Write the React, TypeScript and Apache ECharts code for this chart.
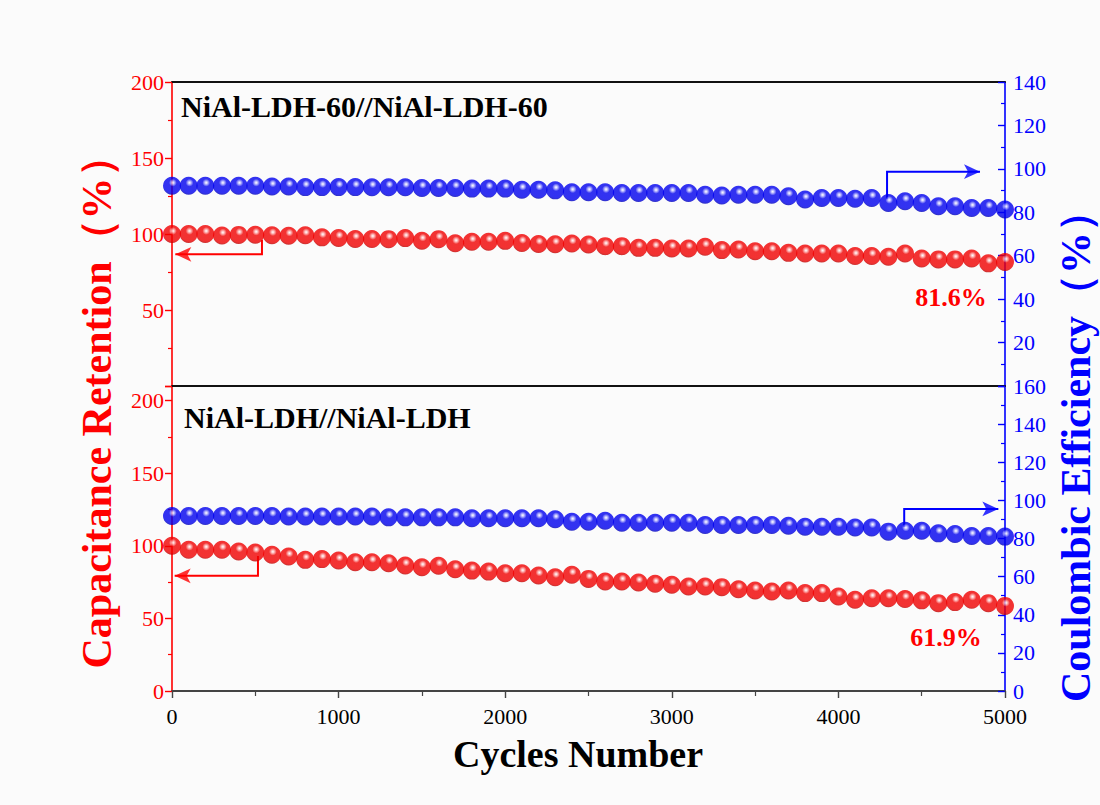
import React, { useEffect, useRef } from 'react';
import * as echarts from 'echarts';

const cycles = [
  0, 100, 200, 300, 400, 500, 600, 700, 800, 900,
  1000, 1100, 1200, 1300, 1400, 1500, 1600, 1700, 1800, 1900,
  2000, 2100, 2200, 2300, 2400, 2500, 2600, 2700, 2800, 2900,
  3000, 3100, 3200, 3300, 3400, 3500, 3600, 3700, 3800, 3900,
  4000, 4100, 4200, 4300, 4400, 4500, 4600, 4700, 4800, 4900, 5000,
];

// NiAl-LDH-60//NiAl-LDH-60
const retention60 = [
  100, 100, 100, 99, 99.4, 99.5, 99.2, 98.9, 99.2, 97.8,
  97.4, 96.7, 96.7, 96.6, 97.3, 95.6, 96.6, 93.9, 94.9, 94.9,
  95.5, 94.1, 93.4, 93.3, 93.7, 93.1, 92.0, 92.0, 90.9, 90.9,
  90.5, 90.5, 91.6, 89.4, 89.8, 88.7, 88.7, 87.6, 87.2, 87.2,
  87.2, 85.5, 85.5, 85.0, 87.2, 83.9, 83.3, 83.3, 83.9, 80.7, 81.6,
];
const efficiency60 = [
  92.2, 92.2, 92.2, 92.2, 92.2, 92.2, 91.9, 91.9, 91.6, 91.6,
  91.6, 91.6, 91.5, 91.5, 91.5, 91.2, 91.2, 91.2, 90.9, 90.9,
  90.9, 90.4, 90.4, 90.1, 89.2, 89.2, 89.2, 88.9, 88.9, 88.9,
  88.9, 88.9, 88.1, 87.7, 88.1, 88.1, 88.1, 87.4, 85.9, 86.6,
  86.6, 86.2, 86.6, 84.3, 85.1, 84.3, 82.8, 82.8, 82.0, 82.0, 81.3,
];

// NiAl-LDH//NiAl-LDH
const retentionLDH = [
  100, 97.2, 97.2, 97.2, 96.1, 95.4, 93.8, 92.6, 90.3, 90.8,
  89.8, 88.7, 88.7, 88.0, 86.4, 85.2, 86.2, 83.8, 82.9, 82.2,
  81.1, 81.1, 79.5, 78.3, 80.0, 77.2, 75.4, 75.4, 74.7, 73.8,
  73.1, 71.9, 71.9, 71.5, 70.1, 69.2, 68.5, 69.2, 67.4, 67.4,
  65.1, 62.8, 63.9, 63.9, 63.3, 62.4, 60.5, 61.2, 62.8, 60.5, 58.6,
];
const efficiencyLDH = [
  91.8, 91.8, 91.8, 91.8, 91.8, 91.8, 91.8, 91.5, 91.5, 91.5,
  91.5, 91.5, 91.5, 91.1, 91.1, 91.1, 91.1, 91.1, 90.6, 90.6,
  90.6, 90.6, 90.6, 90.1, 88.8, 88.8, 89.3, 88.3, 88.3, 88.3,
  88.3, 88.3, 87.1, 87.1, 87.1, 87.1, 87.1, 86.7, 86.2, 86.2,
  86.2, 85.8, 85.8, 83.6, 84.1, 84.1, 82.7, 82.4, 81.3, 81.3, 81.0,
];

// arrow annotations: [cycle, value] corner points (last point = arrow tip)
const arrowRet60 = [[540, 96], [540, 86.6], [20, 86.6]];
const arrowCE60 = [[4292, 86], [4292, 98.7], [4850, 98.7]];
const arrowRetLDH = [[516, 93], [516, 79.3], [16, 79.3]];
const arrowCELDH = [[4395, 86], [4395, 95.5], [4960, 95.5]];

const panelTitles = ['NiAl-LDH-60//NiAl-LDH-60', 'NiAl-LDH//NiAl-LDH'];
const finalLabels = ['81.6%', '61.9%'];

const RED = '#ff0000';
const BLUE = '#0000ff';
const SERIF = "'Liberation Serif', 'Times New Roman', serif";

function sphere(light: string, base: string, dark: string) {
  return {
    type: 'radial',
    x: 0.55,
    y: 0.33,
    r: 0.72,
    colorStops: [
      { offset: 0, color: '#ffffff' },
      { offset: 0.1, color: light },
      { offset: 0.3, color: base },
      { offset: 0.78, color: base },
      { offset: 1, color: dark },
    ],
  };
}
const redSphere = sphere('#ffb8b8', '#f00000', '#a80000');
const blueSphere = sphere('#b8b8ff', '#0000ee', '#0000a0');

function pairs(values: number[]) {
  return cycles.map((c, i) => [c, values[i]]);
}

function scatter(name: string, values: number[], grid: number, yIdx: number, color: any) {
  return {
    name,
    type: 'scatter',
    xAxisIndex: grid === 0 ? 0 : 2,
    yAxisIndex: yIdx,
    data: pairs(values),
    symbol: 'circle',
    symbolSize: 18,
    itemStyle: { color },
    z: 4,
    silent: true,
  };
}

function arrowLine(coords: number[][], xIdx: number, yIdx: number, color: string) {
  return {
    type: 'lines',
    coordinateSystem: 'cartesian2d',
    xAxisIndex: xIdx,
    yAxisIndex: yIdx,
    polyline: true,
    symbol: 'none',
    lineStyle: { color, width: 2, opacity: 1 },
    data: [{ coords }],
    z: 3,
    silent: true,
  };
}

function arrowHead(coords: number[][], xIdx: number, yIdx: number, color: string, pointLeft: boolean) {
  return {
    type: 'scatter',
    xAxisIndex: xIdx,
    yAxisIndex: yIdx,
    data: [coords[coords.length - 1]],
    symbol: 'arrow',
    symbolSize: [11, 16],
    symbolRotate: pointLeft ? 90 : -90,
    itemStyle: { color },
    z: 3,
    silent: true,
  };
}

function serifLabel(color: string, margin: number, hide: (v: number) => boolean) {
  return {
    margin,
    formatter: (v: number) => (hide(v) ? '' : `{s|${v}}`),
    rich: {
      s: { fontFamily: SERIF, fontSize: 22, color, fontWeight: 'normal' },
    },
  };
}

function yAxis(grid: number, position: string, max: number, interval: number, color: string, inside: boolean, hideMin: boolean) {
  return {
    type: 'value',
    gridIndex: grid,
    position,
    min: 0,
    max,
    interval,
    axisLine: { show: true, onZero: false, lineStyle: { color, width: 1.6 } },
    axisTick: { show: true, inside, length: 7, lineStyle: { color, width: 1.4 } },
    minorTick: { show: true, splitNumber: 2, length: 4, lineStyle: { color, width: 1.2 } },
    axisLabel: serifLabel(color, 8, (v) => v > 200 || (hideMin && v === 0)),
    splitLine: { show: false },
  };
}

export default function App() {
  const ref = useRef<HTMLDivElement>(null);
  useEffect(() => {
    document.body.style.margin = '0';
    const chart = echarts.init(ref.current!, undefined, { renderer: 'svg' });
    chart.setOption({
      animation: false,
      backgroundColor: '#fbfbfb',
      textStyle: { fontFamily: SERIF },
      grid: [
        { left: 172, top: 82, width: 833, height: 304 },
        { left: 172, top: 386, width: 833, height: 305 },
      ],
      xAxis: [
        {
          type: 'value', gridIndex: 0, position: 'bottom', min: 0, max: 5000, interval: 1000,
          axisLine: { onZero: false, lineStyle: { color: '#111', width: 2 } },
          axisTick: { show: false }, axisLabel: { show: false }, splitLine: { show: false },
        },
        {
          type: 'value', gridIndex: 0, position: 'top', min: 0, max: 5000, interval: 1000,
          axisLine: { onZero: false, lineStyle: { color: '#111', width: 2 } },
          axisTick: { show: false }, axisLabel: { show: false }, splitLine: { show: false },
        },
        {
          type: 'value', gridIndex: 1, position: 'bottom', min: 0, max: 5000, interval: 1000,
          axisLine: { onZero: false, lineStyle: { color: '#444', width: 2 } },
          axisTick: { show: true, length: 7, lineStyle: { color: '#444', width: 1.4 } },
          minorTick: { show: true, splitNumber: 2, length: 5, lineStyle: { color: '#444', width: 1.2 } },
          axisLabel: serifLabel('#000', 14, () => false),
          splitLine: { show: false },
        },
      ],
      yAxis: [
        yAxis(0, 'left', 200, 50, RED, false, true),
        yAxis(0, 'right', 140, 20, BLUE, true, true),
        yAxis(1, 'left', 210, 50, RED, false, false),
        yAxis(1, 'right', 160, 20, BLUE, true, false),
      ],
      series: [
        arrowLine(arrowRet60, 0, 0, RED),
        arrowLine(arrowCE60, 0, 1, BLUE),
        arrowLine(arrowRetLDH, 2, 2, RED),
        arrowLine(arrowCELDH, 2, 3, BLUE),
        arrowHead(arrowRet60, 0, 0, RED, true),
        arrowHead(arrowCE60, 0, 1, BLUE, false),
        arrowHead(arrowRetLDH, 2, 2, RED, true),
        arrowHead(arrowCELDH, 2, 3, BLUE, false),
        scatter('Retention 60', retention60, 0, 0, redSphere),
        scatter('Efficiency 60', efficiency60, 0, 1, blueSphere),
        scatter('Retention LDH', retentionLDH, 1, 2, redSphere),
        scatter('Efficiency LDH', efficiencyLDH, 1, 3, blueSphere),
      ],
      graphic: [
        {
          type: 'text', x: 181, y: 106,
          style: { text: panelTitles[0], font: `bold 30px ${SERIF}`, fill: '#000', textAlign: 'left', textVerticalAlign: 'middle' },
        },
        {
          type: 'text', x: 184, y: 417,
          style: { text: panelTitles[1], font: `bold 30px ${SERIF}`, fill: '#000', textAlign: 'left', textVerticalAlign: 'middle' },
        },
        {
          type: 'text', x: 951, y: 297,
          style: { text: finalLabels[0], font: `bold 26px ${SERIF}`, fill: RED, textAlign: 'center', textVerticalAlign: 'middle' },
        },
        {
          type: 'text', x: 946, y: 637,
          style: { text: finalLabels[1], font: `bold 26px ${SERIF}`, fill: RED, textAlign: 'center', textVerticalAlign: 'middle' },
        },
        {
          type: 'text', x: 97, y: 402, rotation: Math.PI / 2,
          style: { text: 'Capacitance Retention（%）', font: `bold 42px ${SERIF}`, fill: RED, textAlign: 'center', textVerticalAlign: 'middle' },
        },
        {
          type: 'text', x: 1076, y: 446, rotation: Math.PI / 2,
          style: { text: 'Coulombic Efficiency（%）', font: `bold 42px ${SERIF}`, fill: BLUE, textAlign: 'center', textVerticalAlign: 'middle' },
        },
        {
          type: 'text', x: 578, y: 754,
          style: { text: 'Cycles Number', font: `bold 38px ${SERIF}`, fill: '#000', textAlign: 'center', textVerticalAlign: 'middle' },
        },
      ],
    });
    return () => chart.dispose();
  }, []);
  return <div ref={ref} style={{ width: 1100, height: 805 }} />;
}
